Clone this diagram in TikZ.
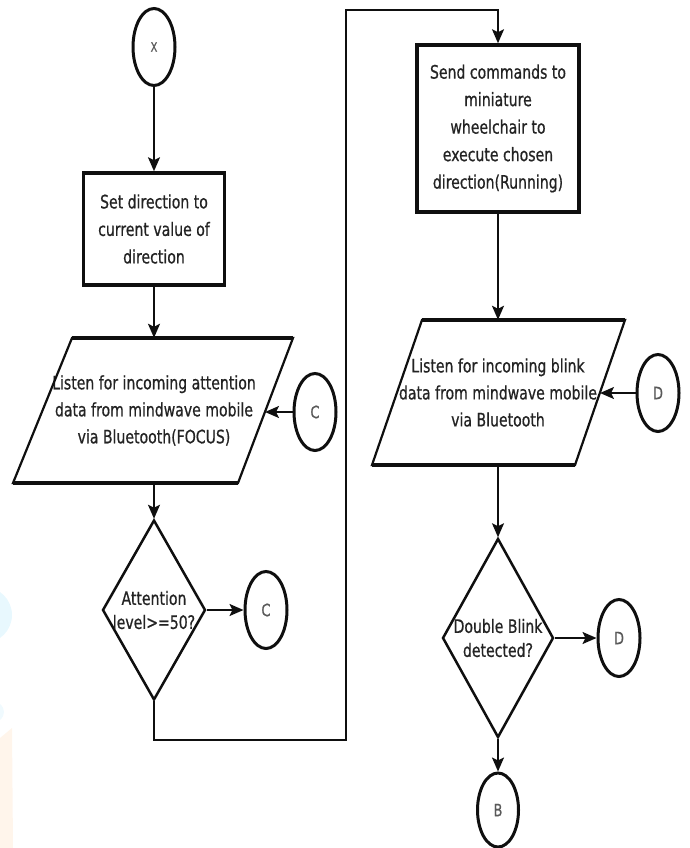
\documentclass[tikz,border=0pt]{standalone}
\usepackage{fontspec}
\setmainfont{DejaVu Sans}[FakeStretch=0.76,FakeBold=0.7]
\usetikzlibrary{shapes.geometric,arrows.meta}
\definecolor{ink}{RGB}{15,15,15}
\definecolor{txt}{RGB}{35,35,35}
\begin{document}
\begin{tikzpicture}[x=1pt,y=-1pt,
  every node/.style={text=txt},
  bodyfont/.style={font=\fontsize{18.5}{27.5}\selectfont},
  procbox/.style={draw=ink,line width=3.5pt,rectangle,inner sep=0pt,align=center,bodyfont},
  conn/.style={draw=ink,ellipse,line width=3pt,minimum width=42pt,minimum height=77pt,inner sep=0pt,
    font=\fontsize{17}{18}\selectfont,text=gray!70!black},
  paratext/.style={rectangle,inner sep=0pt,align=center,minimum height=145pt,minimum width=150pt,
    font=\fontsize{18.5}{27}\selectfont},
  paraside/.style={draw=ink,line width=2.2pt,line join=miter},
  paraedge/.style={draw=ink,line width=4pt},
  decision/.style={draw=ink,diamond,line width=2.5pt,inner sep=0pt},
  dlabel/.style={align=center,text=txt,font=\fontsize{18.5}{24}\selectfont},
  arr/.style={draw=ink,line width=2pt,-{Stealth[length=14pt,width=12pt,inset=3pt]}},
  plain/.style={draw=ink,line width=2pt}]
\useasboundingbox (0,0) rectangle (690,848);
% faint watermark at the left edge
\fill[cyan!9] (-16,615) circle (28pt);
\fill[cyan!6] (-6,712) circle (10pt);
\fill[orange!8] (0,738) -- (12,728) -- (13,848) -- (0,848) -- cycle;

% left column
\node[conn,font=\fontsize{13}{14}\selectfont] (x) at (154,47) {X};
\node[procbox,minimum width=141pt,minimum height=112pt] (b1) at (154,229)
  {Set direction to\\current value of\\direction};
\node[paratext] (p1) at (154,410.5)
  {Listen for incoming attention\\data from mindwave mobile\\via Bluetooth(FOCUS)};
\draw[paraside] (72,338) -- (293,338) -- (238,483) -- (13,483) -- cycle;
\draw[paraedge] (72,338) -- (293,338);
\draw[paraedge] (13,483) -- (238,483);
\coordinate (p1e) at (265,412);
\node[conn] (c1) at (315,412) {C};
\node[decision,minimum width=103pt,minimum height=180pt,
  label={[dlabel]center:Attention\\level>=50?}] (d1) at (154,610) {};
\node[conn] (c2) at (266,610) {C};

% right column
\node[procbox,minimum width=162pt,minimum height=167pt] (b2) at (498,128.5)
  {Send commands to\\miniature\\wheelchair to\\execute chosen\\direction(Running)};
\node[paratext] (p2) at (498,392.5)
  {Listen for incoming blink\\data from mindwave mobile\\via Bluetooth};
\draw[paraside] (422,320) -- (625,320) -- (575,465) -- (372,465) -- cycle;
\draw[paraedge] (422,320) -- (625,320);
\draw[paraedge] (372,465) -- (575,465);
\coordinate (p2e) at (600,393);
\node[conn] (dd1) at (658,393) {D};
\node[decision,minimum width=111pt,minimum height=199pt,
  label={[dlabel]center:Double Blink\\detected?}] (d2) at (498,638) {};
\node[conn] (dd2) at (619,638) {D};
\node[conn,minimum height=74pt,minimum width=41pt] (bb) at (498,810) {B};

% loop route
\coordinate (l1) at (346,740);
\coordinate (l2) at (346,10);

% connectors
\draw[arr] (x) -- (b1);
\draw[arr] (b1) -- (p1);
\draw[arr] (c1) -- (p1e);
\draw[arr] (p1) -- (d1);
\draw[arr] (d1) -- (c2);
\draw[arr,line join=miter] (d1.south) |- (l1) -- (l2) -| (b2.north);
\draw[arr] (b2) -- (p2);
\draw[arr] (dd1) -- (p2e);
\draw[arr] (p2) -- (d2);
\draw[arr] (d2) -- (dd2);
\draw[arr] (d2) -- (bb);
\end{tikzpicture}
\end{document}
